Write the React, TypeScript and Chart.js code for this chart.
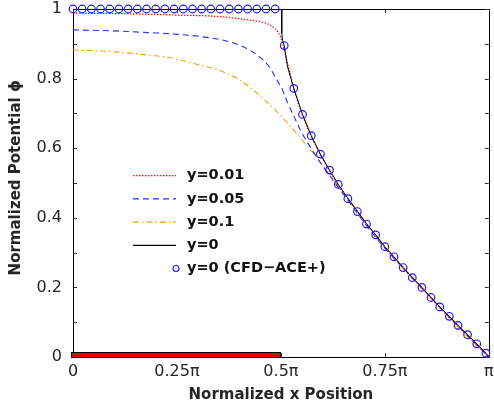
import React, { useEffect, useRef } from "react";
import { Chart, registerables } from "chart.js";

Chart.register(...registerables);

// ---- tick labels ----
const xTickLabels = ["0", "0.25π", "0.5π", "0.75π", "π"];
const yTickLabels = ["0", "0.2", "0.4", "0.6", "0.8", "1"];

// ---- legend labels ----
const seriesLabels = ["y=0.01", "y=0.05", "y=0.1", "y=0", "y=0 (CFD−ACE+)"];

// ---- electrode (red bar) extent, in units of π ----
const electrodeX = [0, 0.5];
const electrodeY = [0, 0.013];

// ---- y = 0.01 (red dotted) ----
const xY001 = [0, 0.1, 0.233, 0.353, 0.424, 0.464, 0.48, 0.492, 0.499, 0.504, 0.512, 0.52, 0.531, 0.552, 0.573, 0.595, 0.617, 0.638, 0.661, 0.684, 0.706, 0.728, 0.75, 0.8, 0.85, 0.9, 0.95, 1.0];
const vY001 = [0.988, 0.987, 0.983, 0.978, 0.968, 0.959, 0.949, 0.935, 0.92, 0.901, 0.863, 0.825, 0.77, 0.695, 0.634, 0.581, 0.535, 0.494, 0.454, 0.417, 0.382, 0.35, 0.316, 0.25, 0.185, 0.12, 0.06, 0.0];

// ---- y = 0.05 (blue dashed) ----
const xY005 = [0, 0.1, 0.185, 0.233, 0.3125, 0.376, 0.4165, 0.448, 0.472, 0.488, 0.504, 0.516, 0.532, 0.55, 0.575, 0.6, 0.63, 0.66, 0.7, 0.75, 0.8, 0.85, 0.9, 0.95, 1.0];
const vY005 = [0.94, 0.937, 0.932, 0.929, 0.92, 0.906, 0.887, 0.863, 0.834, 0.801, 0.767, 0.731, 0.69, 0.645, 0.595, 0.55, 0.5, 0.452, 0.387, 0.313, 0.248, 0.184, 0.121, 0.06, 0.0];

// ---- y = 0.1 (orange dash-dot) ----
const xY01 = [0, 0.1, 0.185, 0.233, 0.305, 0.36, 0.4, 0.432, 0.46, 0.488, 0.52, 0.55, 0.58, 0.61, 0.64, 0.67, 0.7, 0.75, 0.8, 0.85, 0.9, 0.95, 1.0];
const vY01 = [0.882, 0.877, 0.867, 0.86, 0.839, 0.82, 0.797, 0.769, 0.739, 0.708, 0.667, 0.625, 0.582, 0.535, 0.487, 0.44, 0.39, 0.313, 0.246, 0.182, 0.119, 0.058, 0.0];

// ---- y = 0 (black solid) ----
const xY0 = [0, 0.502, 0.502, 0.504, 0.508, 0.516, 0.531, 0.552, 0.573, 0.595, 0.617, 0.638, 0.661, 0.684, 0.706, 0.728, 0.75, 0.772, 0.794, 0.816, 0.839, 0.861, 0.882, 0.905, 0.926, 0.949, 0.971, 0.993, 1.0];
const vY0 = [1, 1, 0.93, 0.91, 0.895, 0.834, 0.772, 0.697, 0.636, 0.583, 0.537, 0.496, 0.456, 0.419, 0.383, 0.351, 0.317, 0.288, 0.257, 0.228, 0.2, 0.171, 0.144, 0.117, 0.091, 0.064, 0.038, 0.011, 0.0];

// ---- y = 0 (CFD-ACE+) circles ----
const xCfd = [0, 0.0221, 0.0442, 0.0663, 0.0884, 0.1105, 0.1326, 0.1547, 0.1768, 0.1989, 0.221, 0.2431, 0.2652, 0.2873, 0.3094, 0.3315, 0.3536, 0.3757, 0.3978, 0.4199, 0.442, 0.4641, 0.4862, 0.508, 0.531, 0.552, 0.573, 0.595, 0.617, 0.638, 0.661, 0.684, 0.706, 0.728, 0.75, 0.772, 0.794, 0.816, 0.839, 0.861, 0.882, 0.905, 0.926, 0.949, 0.971, 0.993];
const vCfd = [1, 1, 1, 1, 1, 1, 1, 1, 1, 1, 1, 1, 1, 1, 1, 1, 1, 1, 1, 1, 1, 1, 1, 0.895, 0.772, 0.697, 0.636, 0.583, 0.537, 0.496, 0.455, 0.418, 0.382, 0.351, 0.317, 0.288, 0.257, 0.228, 0.2, 0.171, 0.144, 0.117, 0.091, 0.064, 0.038, 0.011];

// ---- styles ----
const seriesColors = ["#ff0000", "#1f2fff", "#ff9900", "#000000", "#1a1aff"];
const seriesDashes = [[1.5, 1.5], [6, 4], [6, 3, 1.5, 3], [], []];

const pts = (xs: number[], ys: number[]) => xs.map((x, i) => ({ x, y: ys[i] }));

const FONT = "'DejaVu Sans', 'Liberation Sans', Arial, sans-serif";
const TEXT = "#262626";

const framePlugin = {
  id: "frame",
  beforeDatasetsDraw(chart: any) {
    const { ctx, chartArea: a, scales } = chart;
    ctx.save();
    ctx.strokeStyle = "#000";
    ctx.lineWidth = 1;
    ctx.beginPath();
    ctx.rect(Math.round(a.left) + 0.5, Math.round(a.top) + 0.5, Math.round(a.right - a.left), Math.round(a.bottom - a.top));
    ctx.stroke();
    const len = 4;
    ctx.strokeStyle = "#333";
    ctx.beginPath();
    scales.x.ticks.forEach((t: any) => {
      const px = Math.round(scales.x.getPixelForValue(t.value)) + 0.5;
      ctx.moveTo(px, a.bottom);
      ctx.lineTo(px, a.bottom - len);
      ctx.moveTo(px, a.top);
      ctx.lineTo(px, a.top + len);
    });
    scales.y.ticks.forEach((t: any) => {
      const py = Math.round(scales.y.getPixelForValue(t.value)) + 0.5;
      ctx.moveTo(a.left, py);
      ctx.lineTo(a.left + len, py);
      ctx.moveTo(a.right, py);
      ctx.lineTo(a.right - len, py);
    });
    ctx.stroke();
    ctx.restore();
  },
};

const electrodePlugin = {
  id: "electrode",
  afterDatasetsDraw(chart: any) {
    const { ctx, scales } = chart;
    const x0 = scales.x.getPixelForValue(electrodeX[0]);
    const x1 = scales.x.getPixelForValue(electrodeX[1]);
    const y0 = scales.y.getPixelForValue(electrodeY[0]);
    const y1 = scales.y.getPixelForValue(electrodeY[1]);
    ctx.save();
    ctx.fillStyle = "#e60000";
    ctx.strokeStyle = "#000";
    ctx.lineWidth = 1;
    ctx.fillRect(x0 - 1, y1, x1 - x0 + 1, y0 - y1);
    ctx.strokeRect(Math.round(x0) - 1.5, Math.round(y1) + 0.5, Math.round(x1 - x0) + 1, Math.round(y0 - y1));
    ctx.restore();
  },
};

const legendPlugin = {
  id: "customLegend",
  afterDraw(chart: any) {
    const { ctx, chartArea: a } = chart;
    const lx0 = a.left + 60;
    const lx1 = a.left + 103;
    const tx = a.left + 114;
    const y0 = a.top + 166.7;
    const dy = 23.2;
    ctx.save();
    seriesLabels.forEach((label, i) => {
      const y = y0 + i * dy;
      if (i === seriesLabels.length - 1) {
        ctx.beginPath();
        ctx.arc(lx1, y, 3, 0, Math.PI * 2);
        ctx.strokeStyle = seriesColors[i];
        ctx.lineWidth = 1.1;
        ctx.setLineDash([]);
        ctx.stroke();
      } else {
        ctx.beginPath();
        ctx.moveTo(lx0, y);
        ctx.lineTo(lx1, y);
        ctx.strokeStyle = seriesColors[i];
        ctx.lineWidth = 1.2;
        ctx.setLineDash(seriesDashes[i]);
        ctx.stroke();
      }
      ctx.setLineDash([]);
      ctx.fillStyle = "#111";
      ctx.font = `bold 14.5px ${FONT}`;
      ctx.textAlign = "left";
      ctx.textBaseline = "middle";
      ctx.fillText(label, tx, y);
    });
    ctx.restore();
  },
};

export default function App() {
  const ref = useRef<HTMLCanvasElement>(null);
  useEffect(() => {
    const chart = new Chart(ref.current as HTMLCanvasElement, {
      type: "line",
      data: {
        datasets: [
          {
            label: seriesLabels[0],
            data: pts(xY001, vY001),
            borderColor: seriesColors[0],
            borderWidth: 1.2,
            borderDash: seriesDashes[0],
            pointRadius: 0,
            cubicInterpolationMode: "monotone",
            order: 2,
          },
          {
            label: seriesLabels[1],
            data: pts(xY005, vY005),
            borderColor: seriesColors[1],
            borderWidth: 1.1,
            borderDash: seriesDashes[1],
            pointRadius: 0,
            cubicInterpolationMode: "monotone",
            order: 3,
          },
          {
            label: seriesLabels[2],
            data: pts(xY01, vY01),
            borderColor: seriesColors[2],
            borderWidth: 1.1,
            borderDash: seriesDashes[2],
            pointRadius: 0,
            cubicInterpolationMode: "monotone",
            order: 4,
          },
          {
            label: seriesLabels[3],
            data: pts(xY0, vY0),
            borderColor: seriesColors[3],
            borderWidth: 1,
            pointRadius: 0,
            tension: 0,
            order: 1,
          },
          {
            label: seriesLabels[4],
            data: pts(xCfd, vCfd),
            showLine: false,
            pointRadius: 3.8,
            pointBorderWidth: 1.2,
            pointBorderColor: seriesColors[4],
            pointBackgroundColor: "rgba(0,0,0,0)",
            clip: false,
            order: 0,
          } as any,
        ],
      },
      options: {
        responsive: false,
        animation: false,
        layout: { padding: { top: 9, right: 4, bottom: 0, left: 0 } },
        plugins: { legend: { display: false }, tooltip: { enabled: false } },
        scales: {
          x: {
            type: "linear",
            min: 0,
            max: 1,
            grid: { display: false, drawTicks: false },
            border: { display: false },
            ticks: {
              stepSize: 0.25,
              autoSkip: false,
              maxRotation: 0,
              padding: 5,
              color: TEXT,
              font: { family: FONT, size: 16 },
              callback: (v: any) => xTickLabels[Math.round(Number(v) * 4)],
            },
            title: {
              display: true,
              text: "Normalized x Position",
              color: TEXT,
              font: { family: FONT, size: 15, weight: "bold" },
              padding: { top: 0, bottom: 8 },
            },
            afterFit: (s: any) => {
              s.height = 55;
              s.paddingLeft = 0;
              s.paddingRight = 0;
            },
          },
          y: {
            type: "linear",
            min: 0,
            max: 1,
            grid: { display: false, drawTicks: false },
            border: { display: false },
            ticks: {
              stepSize: 0.1,
              autoSkip: false,
              padding: 11,
              color: TEXT,
              font: { family: FONT, size: 16 },
              callback: (v: any) => {
                const k = Math.round(Number(v) * 10);
                return k % 2 === 0 ? yTickLabels[k / 2] : "";
              },
            },
            title: {
              display: true,
              text: "  Normalized Potential ϕ",
              color: TEXT,
              font: { family: FONT, size: 15, weight: "bold" },
              padding: { top: 7, bottom: 0 },
            },
            afterFit: (s: any) => {
              s.width = 73;
              s.paddingTop = 0;
              s.paddingBottom = 0;
            },
          },
        },
      },
      plugins: [framePlugin, electrodePlugin, legendPlugin],
    } as any);
    return () => chart.destroy();
  }, []);
  return (
    <div style={{ position: "fixed", left: 0, top: 0, width: 494, height: 412, background: "#fff" }}>
      <canvas ref={ref} width={494} height={412} style={{ display: "block", width: 494, height: 412 }} />
    </div>
  );
}
